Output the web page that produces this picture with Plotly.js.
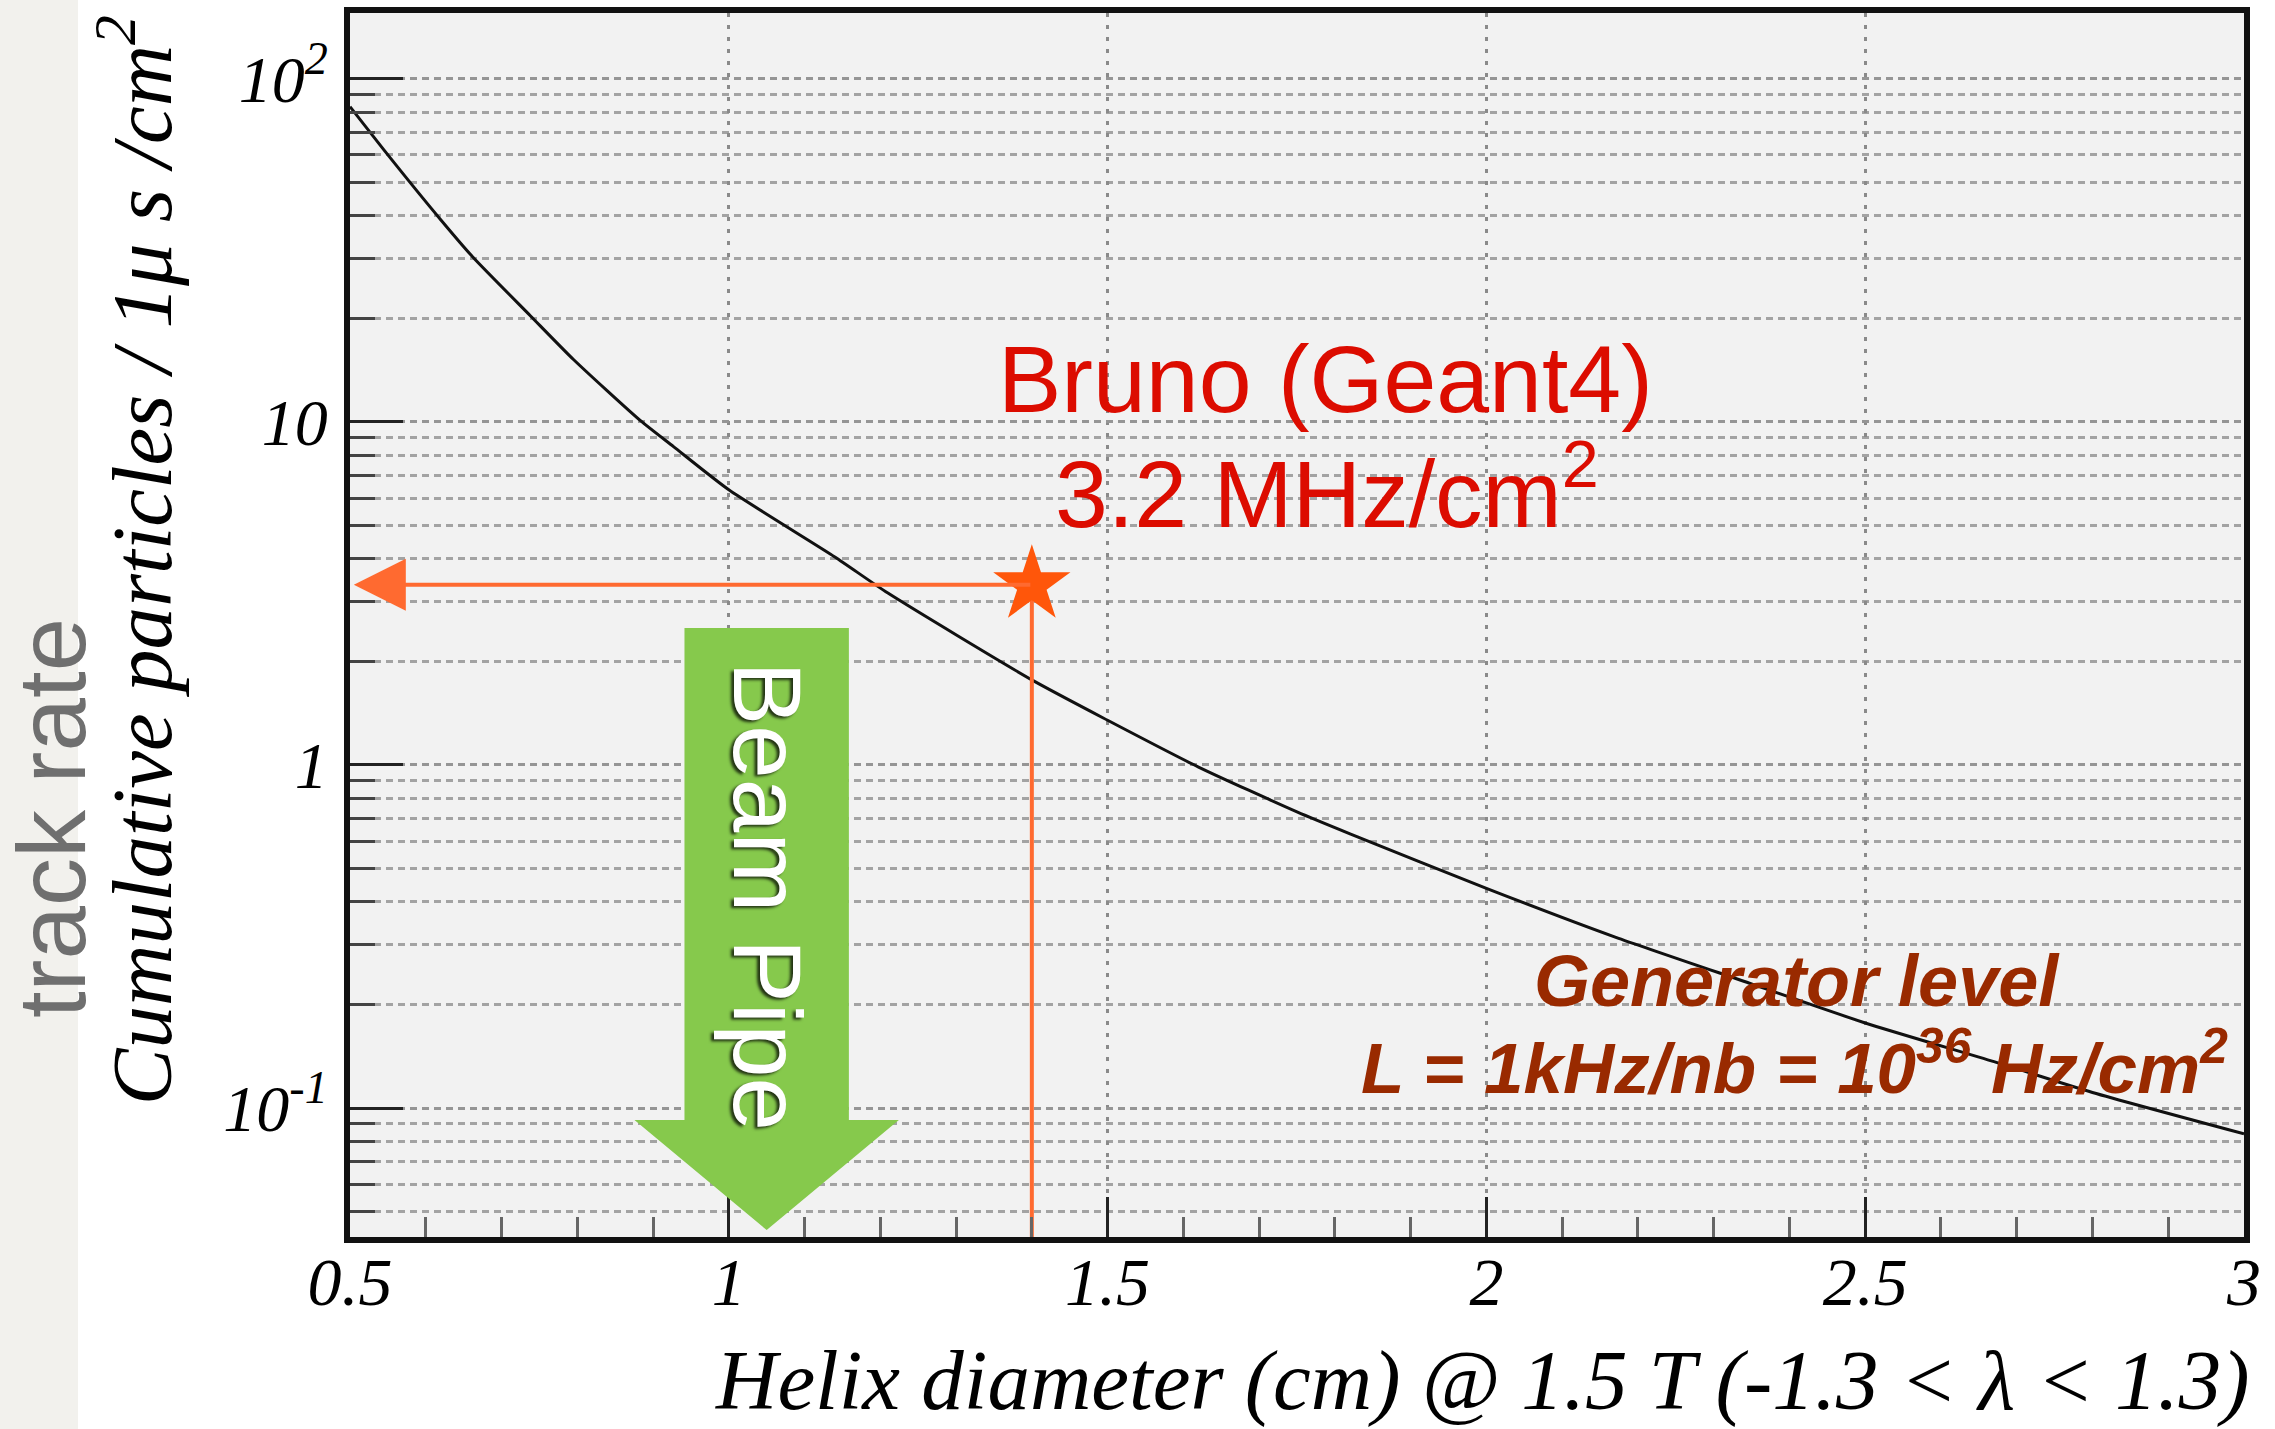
<!DOCTYPE html>
<html>
<head>
<meta charset="utf-8">
<script src="https://cdn.plot.ly/plotly-3.0.1.min.js"></script>
<style>html,body{margin:0;padding:0;background:#fff;}#chart{width:2275px;height:1429px;}</style>
</head>
<body>
<div id="chart"></div>
<script>
// Curve: cumulative particles per 1 µs per cm² vs helix diameter (cm)
const helixDiameter = [0.5, 0.545, 0.62, 0.663, 0.738, 0.795, 0.883, 0.927, 1.0, 1.14, 1.21, 1.4, 1.5, 1.62, 1.75, 1.82, 2.0, 2.17, 2.35, 2.5, 2.67, 2.8, 3.0];
const cumulativeRate = [83, 62, 38.8, 30.1, 20.4, 15.2, 10.1, 8.47, 6.34, 4.04, 3.17, 1.77, 1.35, 0.986, 0.73, 0.63, 0.437, 0.315, 0.23, 0.177, 0.1365, 0.111, 0.0841];

// Bruno (Geant4) point
const starX = [1.4];
const starY = [3.35];

// Beam pipe marker position (cm)
const beamPipeX = [1.05];

// Axes
const xRange = [0.5, 3];
const yLogRange = [-1.376, 2.192];
const xTickVals = [0.5, 1, 1.5, 2, 2.5, 3];
const xTickText = ['0.5', '1', '1.5', '2', '2.5', '3'];
const yTickVals = [0.1, 1, 10, 100];
const yTickText = ['10<sup>-1</sup>', '1', '10', '10<sup>2</sup>'];
const yMinorVals = [];
[-2, -1, 0, 1, 2].forEach(d => { for (let k = 2; k <= 9; k++) yMinorVals.push(k * Math.pow(10, d)); });

const serif = 'Liberation Serif, Times New Roman, serif';
const sans = 'Liberation Sans, Arial, sans-serif';
const orange = '#ff6a30';

const traces = [
  {
    x: helixDiameter, y: cumulativeRate, type: 'scatter', mode: 'lines',
    line: {color: '#111111', width: 3, shape: 'spline', smoothing: 0.6},
    hoverinfo: 'skip', showlegend: false
  },
  {
    x: [starX[0], starX[0]], y: [starY[0], Math.pow(10, yLogRange[0])],
    type: 'scatter', mode: 'lines', line: {color: orange, width: 4},
    showlegend: false, hoverinfo: 'skip'
  },
  {
    x: starX, y: starY, type: 'scatter', mode: 'markers',
    marker: {symbol: 'star', size: 58, color: '#ff560a', line: {width: 0}},
    cliponaxis: false, showlegend: false, hoverinfo: 'skip'
  }
];

const bx = beamPipeX[0];
const shaftHalf = 0.1085, headHalf = 0.1745;
const arrowPath = 'M' + (bx - shaftHalf) + ',0.4975 L' + (bx + shaftHalf) + ',0.4975 L' + (bx + shaftHalf) + ',0.0956 L' +
  (bx + headHalf) + ',0.0956 L' + bx + ',0.0057 L' + (bx - headHalf) + ',0.0956 L' + (bx - shaftHalf) + ',0.0956 Z';

const layout = {
  width: 2275, height: 1429,
  margin: {l: 350, r: 31, t: 13, b: 192},
  paper_bgcolor: '#ffffff', plot_bgcolor: '#f2f2f2',
  showlegend: false,
  xaxis: {
    range: xRange, tickmode: 'array', tickvals: xTickVals, ticktext: xTickText,
    ticks: 'inside', ticklen: 40, tickwidth: 3, tickcolor: '#222',
    tickfont: {family: serif, size: 68, color: '#000', style: 'italic'},
    ticklabelstandoff: -20,
    showgrid: true, gridcolor: '#8a8a8a', gridwidth: 3, griddash: '4px,8px',
    minor: {dtick: 0.1, tick0: 0.5, ticks: 'inside', ticklen: 20, tickwidth: 3, tickcolor: '#666', showgrid: false},
    showline: true, linewidth: 6, linecolor: '#111', mirror: true,
    zeroline: false, fixedrange: true
  },
  yaxis: {
    type: 'log', range: yLogRange, tickmode: 'array', tickvals: yTickVals, ticktext: yTickText,
    ticks: 'inside', ticklen: 53, tickwidth: 3, tickcolor: '#222',
    tickfont: {family: serif, size: 66, color: '#000', style: 'italic'},
    ticklabelstandoff: 3,
    showgrid: true, gridcolor: '#959595', gridwidth: 3, griddash: '7px,5px',
    minor: {tickmode: 'array', tickvals: yMinorVals, ticks: 'inside', ticklen: 25, tickwidth: 3, tickcolor: '#444',
            showgrid: true, gridcolor: '#a3a3a3', gridwidth: 3, griddash: '7px,5px'},
    showline: true, linewidth: 6, linecolor: '#111', mirror: true,
    zeroline: false, fixedrange: true
  },
  shapes: [
    {type: 'rect', xref: 'paper', yref: 'paper', x0: -0.1848, x1: -0.1436, y0: -0.16, y1: 1.02,
     fillcolor: '#f2f1ed', line: {width: 0}, layer: 'below'},
    {type: 'path', xref: 'x', yref: 'paper', path: arrowPath, fillcolor: '#86c94c', line: {width: 0}, layer: 'above'}
  ],
  annotations: [
    {xref: 'paper', yref: 'paper', x: -0.1575, y: 0.342, xanchor: 'center', yanchor: 'middle', textangle: -90,
     text: 'track rate', showarrow: false, font: {family: sans, size: 96, color: '#6f6f6f'}},
    {xref: 'paper', yref: 'paper', x: -0.1135, y: 0.553, xanchor: 'center', yanchor: 'middle', textangle: -90,
     text: 'Cumulative particles / 1\u03bc s /cm<sup>2</sup>', showarrow: false,
     font: {family: serif, size: 85, color: '#000', style: 'italic'}},
    {xref: 'paper', yref: 'paper', x: 1.004, y: -0.117, xanchor: 'right', yanchor: 'middle',
     text: 'Helix diameter (cm) @ 1.5 T (-1.3 &lt; \u03bb &lt; 1.3)', showarrow: false,
     font: {family: serif, size: 85, color: '#000', style: 'italic'}},
    {xref: 'paper', yref: 'paper', x: 0.515, y: 0.701, xanchor: 'center', yanchor: 'middle',
     text: 'Bruno (Geant4)', showarrow: false, font: {family: sans, size: 95, color: '#dc0c00'}},
    {xref: 'paper', yref: 'paper', x: 0.5156, y: 0.6125, xanchor: 'center', yanchor: 'middle',
     text: '3.2 MHz/cm<sup>2</sup>', showarrow: false, font: {family: sans, size: 95, color: '#dc0c00'}},
    {xref: 'paper', yref: 'paper', x: 0.7639, y: 0.209, xanchor: 'center', yanchor: 'middle',
     text: 'Generator level', showarrow: false,
     font: {family: sans, size: 72, color: '#992a00', weight: 'bold', style: 'italic'}},
    {xref: 'paper', yref: 'paper', x: 0.7628, y: 0.142, xanchor: 'center', yanchor: 'middle',
     text: 'L = 1kHz/nb = 10<sup>36</sup> Hz/cm<sup>2</sup>', showarrow: false,
     font: {family: sans, size: 71, color: '#992a00', weight: 'bold', style: 'italic'}},
    {xref: 'x', yref: 'paper', x: bx, y: 0.2786, xanchor: 'center', yanchor: 'middle', textangle: 90,
     text: 'Beam Pipe', showarrow: false,
     font: {family: sans, size: 96, color: '#ffffff', shadow: '2px 3px 3px rgba(0,0,0,0.75)'}},
    {xref: 'x', yref: 'y', x: 0.505, y: Math.log10(starY[0]), axref: 'x', ayref: 'y', ax: starX[0], ay: Math.log10(starY[0]),
     text: '', showarrow: true, arrowhead: 2, arrowsize: 2.6, arrowwidth: 4, arrowcolor: orange, standoff: 0}
  ]
};

Plotly.newPlot('chart', traces, layout, {staticPlot: true, displayModeBar: false});
</script>
</body>
</html>
